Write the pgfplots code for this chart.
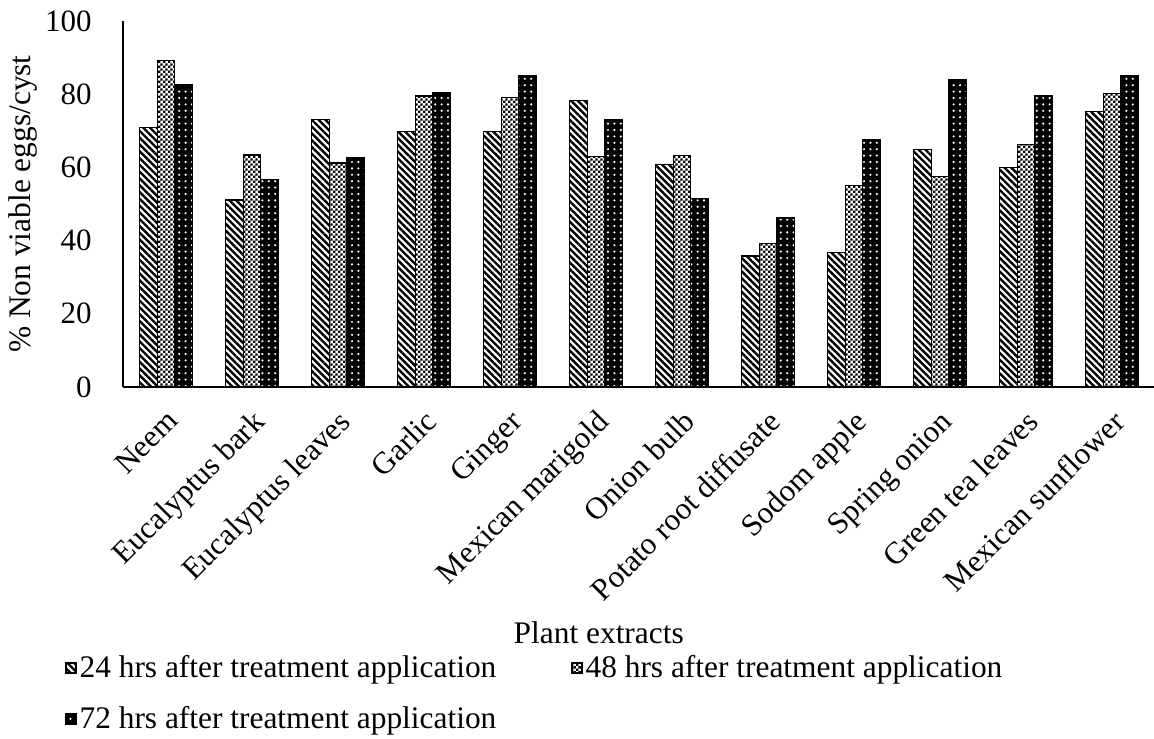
\documentclass[border=0pt]{standalone}
\usepackage{fontspec}
\setmainfont{Liberation Serif}
\usepackage{pgfplots}
\pgfplotsset{compat=1.18}
\usetikzlibrary{patterns,patterns.meta}
\pgfdeclarepatternformonly{checker}{\pgfqpoint{0pt}{0pt}}{\pgfqpoint{2.4pt}{2.4pt}}{\pgfqpoint{2.4pt}{2.4pt}}{%
  \pgfpathrectangle{\pgfqpoint{0pt}{0pt}}{\pgfqpoint{1.2pt}{1.2pt}}%
  \pgfpathrectangle{\pgfqpoint{1.2pt}{1.2pt}}{\pgfqpoint{1.2pt}{1.2pt}}%
  \pgfusepath{fill}}
\pgfplotstableread{
x  h24  h48  h72
0  70.9 89.3 82.5
1  51.1 63.4 56.8
2  73.0 61.2 62.6
3  69.9 79.5 80.5
4  69.7 79.0 85.2
5  78.2 63.0 73.0
6  60.7 63.2 51.6
7  35.8 39.3 46.2
8  36.7 55.1 67.6
9  64.8 57.5 83.9
10 59.9 66.2 79.5
11 75.2 80.1 85.2
}\datatable
\begin{document}
\begin{tikzpicture}
\path[use as bounding box] (0,0) rectangle (577pt,369pt);
\begin{axis}[
  at={(61.5pt,175.5pt)}, anchor=south west,
  scale only axis, width=516pt, height=183pt,
  ybar=0pt, bar width=8.75pt,
  xmin=-0.5, xmax=11.5, ymin=0, ymax=100,
  axis lines=left, axis line style={-, line width=0.6pt, black},
  major tick length=0pt,
  ytick={0,20,40,60,80,100},
  xtick=data,
  xticklabels={Neem,Eucalyptus bark,Eucalyptus leaves,Garlic,Ginger,Mexican marigold,Onion bulb,Potato root diffusate,Sodom apple,Spring onion,Green tea leaves,Mexican sunflower},
  /pgf/number format/assume math mode=true,
  tick label style={font=\fontsize{15.5}{18}\selectfont},
  yticklabel style={inner sep=0pt, xshift=-15.5pt},
  xticklabel style={yshift=-10.5pt, xshift=-0.5pt, rotate=45, anchor=north east, inner sep=0pt},
  label style={font=\fontsize{15.7}{18}\selectfont},
  ylabel={\% Non viable eggs/cyst},
  ylabel style={at={(axis description cs:-0.0969,0.5)}, anchor=center},
  xlabel={Plant extracts},
  xlabel style={at={(axis description cs:0.461,0)}, anchor=center, yshift=-123pt},
  legend style={at={(axis description cs:-0.0562,0)}, anchor=north west, yshift=-132.5pt,
    draw=none, fill=none, inner sep=0pt, font=\fontsize{15.7}{18}\selectfont,
    legend columns=2, row sep=10pt,
    nodes={inner sep=1.5pt},
    /tikz/every even column/.append style={column sep=36pt}},
  legend cell align=left,
  legend image code/.code={\draw[#1] (0pt,-2.5pt) rectangle (5pt,2.5pt);},
]
\addplot[draw=black, line width=0.6pt, pattern={Lines[angle=-45,distance=2.4pt,line width=1.2pt]}, pattern color=black] table[x=x,y=h24] {\datatable};
\addplot[draw=black, line width=0.6pt, pattern=checker, pattern color=black] table[x=x,y=h48] {\datatable};
\addplot[draw=black, line width=0.6pt, fill=black, postaction={pattern={Dots[distance=3.2pt,radius=0.6pt]}, pattern color=white}] table[x=x,y=h72] {\datatable};
\legend{24 hrs after treatment application,48 hrs after treatment application,72 hrs after treatment application}
\end{axis}
\end{tikzpicture}
\end{document}
